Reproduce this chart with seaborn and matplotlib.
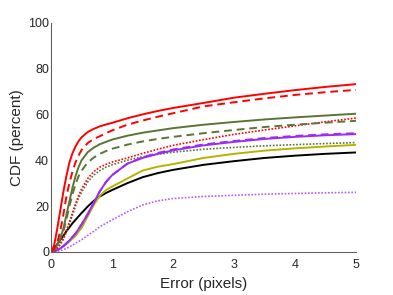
import numpy as np
import pandas as pd
import seaborn as sns
import matplotlib
matplotlib.use("Agg")
import matplotlib.pyplot as plt

# error thresholds (pixels)
err = [0, 0.05, 0.1, 0.15, 0.2, 0.25, 0.3, 0.35, 0.4, 0.45, 0.5, 0.6, 0.7, 0.8, 0.9,
       1.0, 1.25, 1.5, 1.75, 2.0, 2.5, 3.0, 3.5, 4.0, 4.5, 5.0]

# CDF values (percent)
red_solid = [0, 3, 10, 18, 26, 33, 39, 43, 46, 48.3, 50, 52.3, 53.7, 54.8, 55.6,
             56.3, 58.3, 60, 61.5, 62.8, 65, 67.3, 69, 70.6, 72, 73.2]
red_dashed = [0, 1.5, 4, 9, 16, 24, 30, 35, 39, 42, 44.5, 47.5, 49.3, 50.5, 51.8,
              53, 55.5, 57.3, 59, 60.5, 63.5, 65.3, 67, 68.5, 69.7, 70.7]
green_solid = [0, 1, 3, 6, 10, 16, 22, 28, 33, 37, 40, 43.5, 45.5, 47, 48,
               49, 50.7, 52, 53, 54, 55.5, 56.7, 57.8, 58.7, 59.5, 60.3]
green_dashed = [0, 0.8, 2.5, 5.5, 9, 14, 20, 25, 29.5, 33, 35.5, 39, 41.2, 42.8, 44,
                45, 46.8, 48.2, 49.3, 50.2, 51.8, 53.2, 54.5, 55.5, 56.4, 57.2]
red_dotted = [0, 0.5, 1.5, 3.5, 6, 9.5, 13, 17, 21, 24.5, 27.5, 32, 35, 37, 38.2,
              39.2, 41, 43, 44.8, 46.5, 49, 51.3, 53.2, 55, 56.8, 58.4]
green_dotted = [0, 0.5, 1.5, 3.2, 5.5, 8.5, 12, 16, 20, 23.5, 26, 30.5, 33.5, 35.5, 37,
                38, 40, 41.5, 42.6, 43.5, 44.8, 45.6, 46.3, 46.8, 47.3, 47.7]
purple_solid = [0, 0.3, 0.8, 1.5, 2.5, 3.7, 5, 6.5, 8, 10, 12, 16.5, 21.5, 26.5, 30.5,
                33.5, 38.5, 41, 42.8, 44.3, 46.5, 48, 49.3, 50.2, 50.9, 51.4]
purple_dashed = [0, 0.3, 0.8, 1.5, 2.5, 3.7, 5, 6.5, 8, 10, 12, 16.5, 21.5, 26.5, 30.5,
                 33.5, 38.5, 41.3, 43.2, 44.7, 46.9, 48.4, 49.7, 50.6, 51.3, 51.8]
yellow_solid = [0, 0.3, 0.8, 1.5, 2.5, 3.5, 4.5, 5.8, 7, 8.8, 10.5, 15.5, 20.5, 24.5, 27,
                28.5, 32, 35.5, 37.2, 38.3, 41, 42.8, 44.2, 45.2, 46, 46.7]
black_solid = [0, 1.5, 3.3, 5.2, 7, 9, 10.7, 12.5, 14, 15.5, 17, 19.8, 22.3, 24.2, 25.7,
               27, 30, 32.6, 34.4, 35.8, 38, 39.6, 41, 42, 42.8, 43.4]
purple_dotted = [0, 0.1, 0.3, 0.6, 1, 1.5, 2.2, 3, 3.8, 4.5, 5.3, 7.2, 9, 11, 12.5,
                 14, 17.5, 20.5, 22.3, 23.3, 24.2, 24.7, 25.2, 25.5, 25.8, 26]

RED = "#ff0000"
GREEN = "#5a7536"
YELLOW = "#b5b300"
PURPLE = "#9b2bf5"
PURPLE_LT = "#b45cff"

series = [
    (black_solid, "black", "-", 1.4),
    (purple_dotted, PURPLE_LT, (0, (1, 1)), 1.2),
    (yellow_solid, YELLOW, "-", 1.4),
    (green_dotted, GREEN, (0, (1, 1)), 1.2),
    (purple_solid, PURPLE, "-", 1.4),
    (purple_dashed, PURPLE, (0, (4, 2.5)), 1.4),
    (red_dotted, RED, (0, (1, 1)), 1.2),
    (green_dashed, GREEN, (0, (4, 2.5)), 1.4),
    (green_solid, GREEN, "-", 1.4),
    (red_dashed, RED, (0, (4, 2.5)), 1.4),
    (red_solid, RED, "-", 1.4),
]

sns.set_style("white")
plt.rcParams["font.family"] = ["Liberation Sans", "DejaVu Sans"]

fig = plt.figure(figsize=(3.93, 2.95), dpi=100)
ax = fig.add_axes([0.13, 0.146, 0.776, 0.777])

for vals, color, ls, lw in series:
    line_df = pd.DataFrame({"err": err, "cdf": vals})
    sns.lineplot(data=line_df, x="err", y="cdf", color=color, lw=lw, ax=ax)
    ax.lines[-1].set_linestyle(ls)

ax.set_xlim(0, 5)
ax.set_ylim(0, 100)
ax.set_xticks([0, 1, 2, 3, 4, 5])
ax.set_yticks([0, 20, 40, 60, 80, 100])
sns.despine(ax=ax)
for side in ["left", "bottom"]:
    ax.spines[side].set_color("#606060")
    ax.spines[side].set_linewidth(0.8)
ax.tick_params(axis="both", direction="in", length=3, width=0.8, color="#606060",
               labelsize=9, labelcolor="#262626")
ax.tick_params(axis="x", pad=5.2)
ax.tick_params(axis="y", pad=1.5)
ax.set_xlabel("Error (pixels)", fontsize=11, color="#262626", labelpad=4)
ax.set_ylabel("CDF (percent)", fontsize=11, color="#262626", labelpad=3)

fig.savefig("out.png", dpi=100)
